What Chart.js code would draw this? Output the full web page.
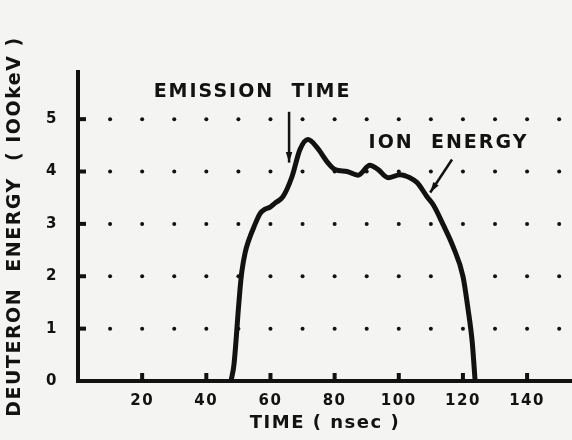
<!DOCTYPE html>
<html lang="en">
<head>
<meta charset="UTF-8" />
<title>Deuteron energy vs time</title>
<style>
  html, body { margin: 0; padding: 0; background: #f4f4f2; }
  #wrap { width: 572px; height: 440px; }
</style>
</head>
<body>
<div id="wrap"><canvas id="myChart" width="572" height="440"></canvas></div>
<script src="https://cdn.jsdelivr.net/npm/chart.js"></script>
<script>
// ion energy trace (time in nsec, energy in 100 keV)
const timeNs = [47.7, 48.6, 49.3, 49.9, 50.5, 51.1, 52.1, 53.3, 54.9, 56.8, 58.3, 59.9, 61.5, 63.9, 66.7,
  69.2, 71.7, 74.5, 77.6, 80.1, 83.9, 87.3, 91.0, 93.5, 96.7, 100.4, 103.5, 105.7, 108.8, 110.7,
  113.8, 116.9, 120.0, 121.6, 122.9, 123.8];
const energy = [0, 0.3, 0.8, 1.3, 1.75, 2.1, 2.45, 2.7, 2.95, 3.2, 3.28, 3.32, 3.4, 3.52, 3.9,
  4.42, 4.61, 4.46, 4.19, 4.04, 4.0, 3.93, 4.12, 4.04, 3.88, 3.94, 3.88, 3.79, 3.52, 3.37,
  2.99, 2.57, 2.0, 1.37, 0.74, 0];

const xTicks = [20, 40, 60, 80, 100, 120, 140];
const yTicks = [0, 1, 2, 3, 4, 5];
const dotTimes = [10, 20, 30, 40, 50, 60, 70, 80, 90, 100, 110, 120, 130, 140, 150];
const dotLevels = [1, 2, 3, 4, 5];

const ink = '#121212';
const fontFam = '"DejaVu Sans", sans-serif';

const paperPlot = {
  id: 'paperPlot',
  beforeDraw(chart) {
    const c = chart.ctx;
    c.save();
    c.fillStyle = '#f4f4f2';
    c.fillRect(0, 0, chart.width, chart.height);
    c.restore();
    c.letterSpacing = '1.5px';
  },
  afterDraw(chart) {
    const c = chart.ctx;
    const xs = chart.scales.x, ys = chart.scales.y;
    const P = (t, v) => [xs.getPixelForValue(t), ys.getPixelForValue(v)];
    c.save();
    c.fillStyle = ink;
    c.strokeStyle = ink;
    c.setLineDash([]);
    // dotted grid
    dotLevels.forEach(v => {
      dotTimes.forEach(t => {
        c.beginPath();
        c.arc(xs.getPixelForValue(t), ys.getPixelForValue(v), 2, 0, Math.PI * 2);
        c.fill();
      });
    });
    // short tick marks on the axes
    c.lineWidth = 4;
    yTicks.slice(1).forEach(v => {
      const py = ys.getPixelForValue(v);
      c.beginPath();
      c.moveTo(xs.left - 2, py);
      c.lineTo(xs.left + 8, py);
      c.stroke();
    });
    xTicks.forEach(v => {
      const px = xs.getPixelForValue(v);
      c.beginPath();
      c.moveTo(px, ys.bottom + 2);
      c.lineTo(px, ys.bottom - 8);
      c.stroke();
    });

    c.font = 'bold 19px ' + fontFam;
    c.letterSpacing = '2px';
    c.textAlign = 'center';
    c.textBaseline = 'middle';
    let p = P(54.4, 5.52);
    c.fillText('EMISSION  TIME', p[0], p[1]);
    p = P(115.5, 4.55);
    c.fillText('ION  ENERGY', p[0], p[1]);

    const arrow = (a, b) => {
      c.lineWidth = 2.5;
      c.beginPath();
      c.moveTo(a[0], a[1]);
      c.lineTo(b[0], b[1]);
      c.stroke();
      const ang = Math.atan2(b[1] - a[1], b[0] - a[0]);
      c.beginPath();
      c.moveTo(b[0], b[1]);
      c.lineTo(b[0] - 11 * Math.cos(ang - 0.3), b[1] - 11 * Math.sin(ang - 0.3));
      c.lineTo(b[0] - 11 * Math.cos(ang + 0.3), b[1] - 11 * Math.sin(ang + 0.3));
      c.closePath();
      c.fill();
    };
    arrow(P(65.8, 5.14), P(65.8, 4.17));
    arrow(P(116.6, 4.23), P(109.8, 3.6));
    c.restore();
  }
};

const ctx = document.getElementById('myChart');
new Chart(ctx, {
  type: 'line',
  data: {
    datasets: [{
      data: timeNs.map((t, i) => ({ x: t, y: energy[i] })),
      borderColor: ink,
      borderWidth: 5,
      pointRadius: 0,
      cubicInterpolationMode: 'monotone',
      fill: false
    }]
  },
  options: {
    responsive: false,
    animation: false,
    devicePixelRatio: 1,
    layout: { padding: { top: 72, left: 0, right: 0, bottom: 0 } },
    plugins: { legend: { display: false }, tooltip: { enabled: false } },
    scales: {
      x: {
        type: 'linear',
        min: 0,
        max: 154,
        afterBuildTicks: s => { s.ticks = xTicks.map(v => ({ value: v })); },
        afterFit: s => { s.height = 59; },
        grid: { display: false },
        border: { color: ink, width: 4 },
        ticks: { color: ink, padding: 3, autoSkip: false, maxRotation: 0,
          font: { family: fontFam, weight: 'bold', size: 15 } },
        title: { display: true, text: 'TIME ( nsec )', color: ink, padding: { top: 0, bottom: 6 },
          font: { family: fontFam, weight: 'bold', size: 18 } }
      },
      y: {
        type: 'linear',
        min: 0,
        max: 5.9,
        afterBuildTicks: s => { s.ticks = yTicks.map(v => ({ value: v })); },
        afterFit: s => { s.width = 78; },
        grid: { display: false },
        border: { color: ink, width: 4 },
        ticks: { color: ink, padding: 12, font: { family: fontFam, weight: 'bold', size: 15 } },
        title: { display: true, text: 'DEUTERON  ENERGY  ( IOOkeV )', color: ink, padding: 4,
          font: { family: fontFam, weight: 'bold', size: 19 } }
      }
    }
  },
  plugins: [paperPlot]
});
</script>
</body>
</html>
